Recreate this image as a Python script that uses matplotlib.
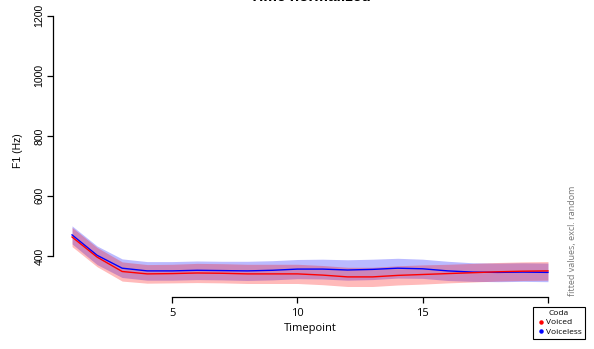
import numpy as np
import matplotlib
matplotlib.use('Agg')
import matplotlib.pyplot as plt
from matplotlib.lines import Line2D

timepoint = np.arange(1, 21)
# fitted F1 (Hz) per timepoint
voiceless = [470, 402, 359, 350, 350, 352, 351, 350, 352, 356,
             356, 353, 355, 359, 357, 350, 346, 345, 346, 345]
voiceless_ci = [30, 31, 31, 31, 31, 31, 31, 32, 32, 32,
                33, 34, 34, 33, 32, 32, 31, 31, 31, 31]
voiced = [463, 396, 348, 340, 341, 343, 342, 340, 340, 340,
          336, 330, 330, 335, 338, 341, 344, 347, 349, 350]
voiced_ci = [32, 32, 32, 31, 31, 32, 32, 32, 32, 32,
             32, 32, 32, 32, 32, 31, 31, 31, 31, 31]

W, H = 594, 349
fig = plt.figure(figsize=(W/100, H/100), dpi=100)
ax = fig.add_axes([53/W, 1-297/H, (567-53)/W, (297-5)/H])

v = np.array(voiceless); vc = np.array(voiceless_ci)
r = np.array(voiced); rc_ = np.array(voiced_ci)
ax.fill_between(timepoint, v-vc, v+vc, color='blue', alpha=0.27, lw=0)
ax.plot(timepoint, v, color='blue', lw=1)
ax.fill_between(timepoint, r-rc_, r+rc_, color='red', alpha=0.27, lw=0)
ax.plot(timepoint, r, color='red', lw=1)

ax.set_xlim(0.24, 20.76)
ax.set_ylim(263, 1236)
for s in ['top', 'right']:
    ax.spines[s].set_visible(False)
ax.spines['left'].set_bounds(400, 1200)
ax.spines['bottom'].set_bounds(5, 20)
ax.spines['left'].set_linewidth(0.9)
ax.spines['bottom'].set_linewidth(0.9)
ax.set_yticks([400, 600, 800, 1000, 1200])
ax.set_xticks([5, 10, 15, 20])
ax.tick_params(length=4, width=0.9, direction='out')
for lab in ax.get_yticklabels():
    lab.set_rotation(90)
    lab.set_va('center')
    lab.set_family('Liberation Sans')
    lab.set_fontsize(7.5)
for lab in ax.get_xticklabels():
    lab.set_family('Open Sans')
    lab.set_fontsize(8)
ax.tick_params(axis='y', pad=2)
ax.tick_params(axis='x', pad=4)

fig.text(18/W, 1-151/H, 'F1 (Hz)', rotation=90, ha='center', va='center',
         family='Liberation Sans', fontsize=7.5)
fig.text(310/W, 1-329/H, 'Timepoint', ha='center', va='center',
         family='Open Sans', fontsize=8)
fig.text(310/W, 1-(-3)/H, 'Time normalized', ha='center', va='center',
         family='Liberation Sans', fontweight='bold', fontsize=11)
fig.text(572/W, 1-296/H, 'fitted values, excl. random', rotation=90,
         ha='center', va='bottom', family='Open Sans', fontsize=6.5,
         color='#777777')

handles = [Line2D([], [], marker='o', ls='', color='red', markersize=2.2),
           Line2D([], [], marker='o', ls='', color='blue', markersize=2.2)]
leg = fig.legend(handles, ['Voiced', 'Voiceless'], title='Coda',
                 loc='upper left', bbox_to_anchor=(533/W, 1-307/H),
                 prop={'family': 'Open Sans', 'size': 6},
                 title_fontproperties={'family': 'Open Sans', 'size': 6},
                 frameon=True, fancybox=False, borderpad=0.4,
                 handletextpad=0.1, handlelength=1.0, labelspacing=0.15,
                 borderaxespad=0, framealpha=1)
leg.get_frame().set_edgecolor('black')
leg.get_frame().set_linewidth(0.8)
leg.set_zorder(10)

plt.savefig('out.png', dpi=100)
